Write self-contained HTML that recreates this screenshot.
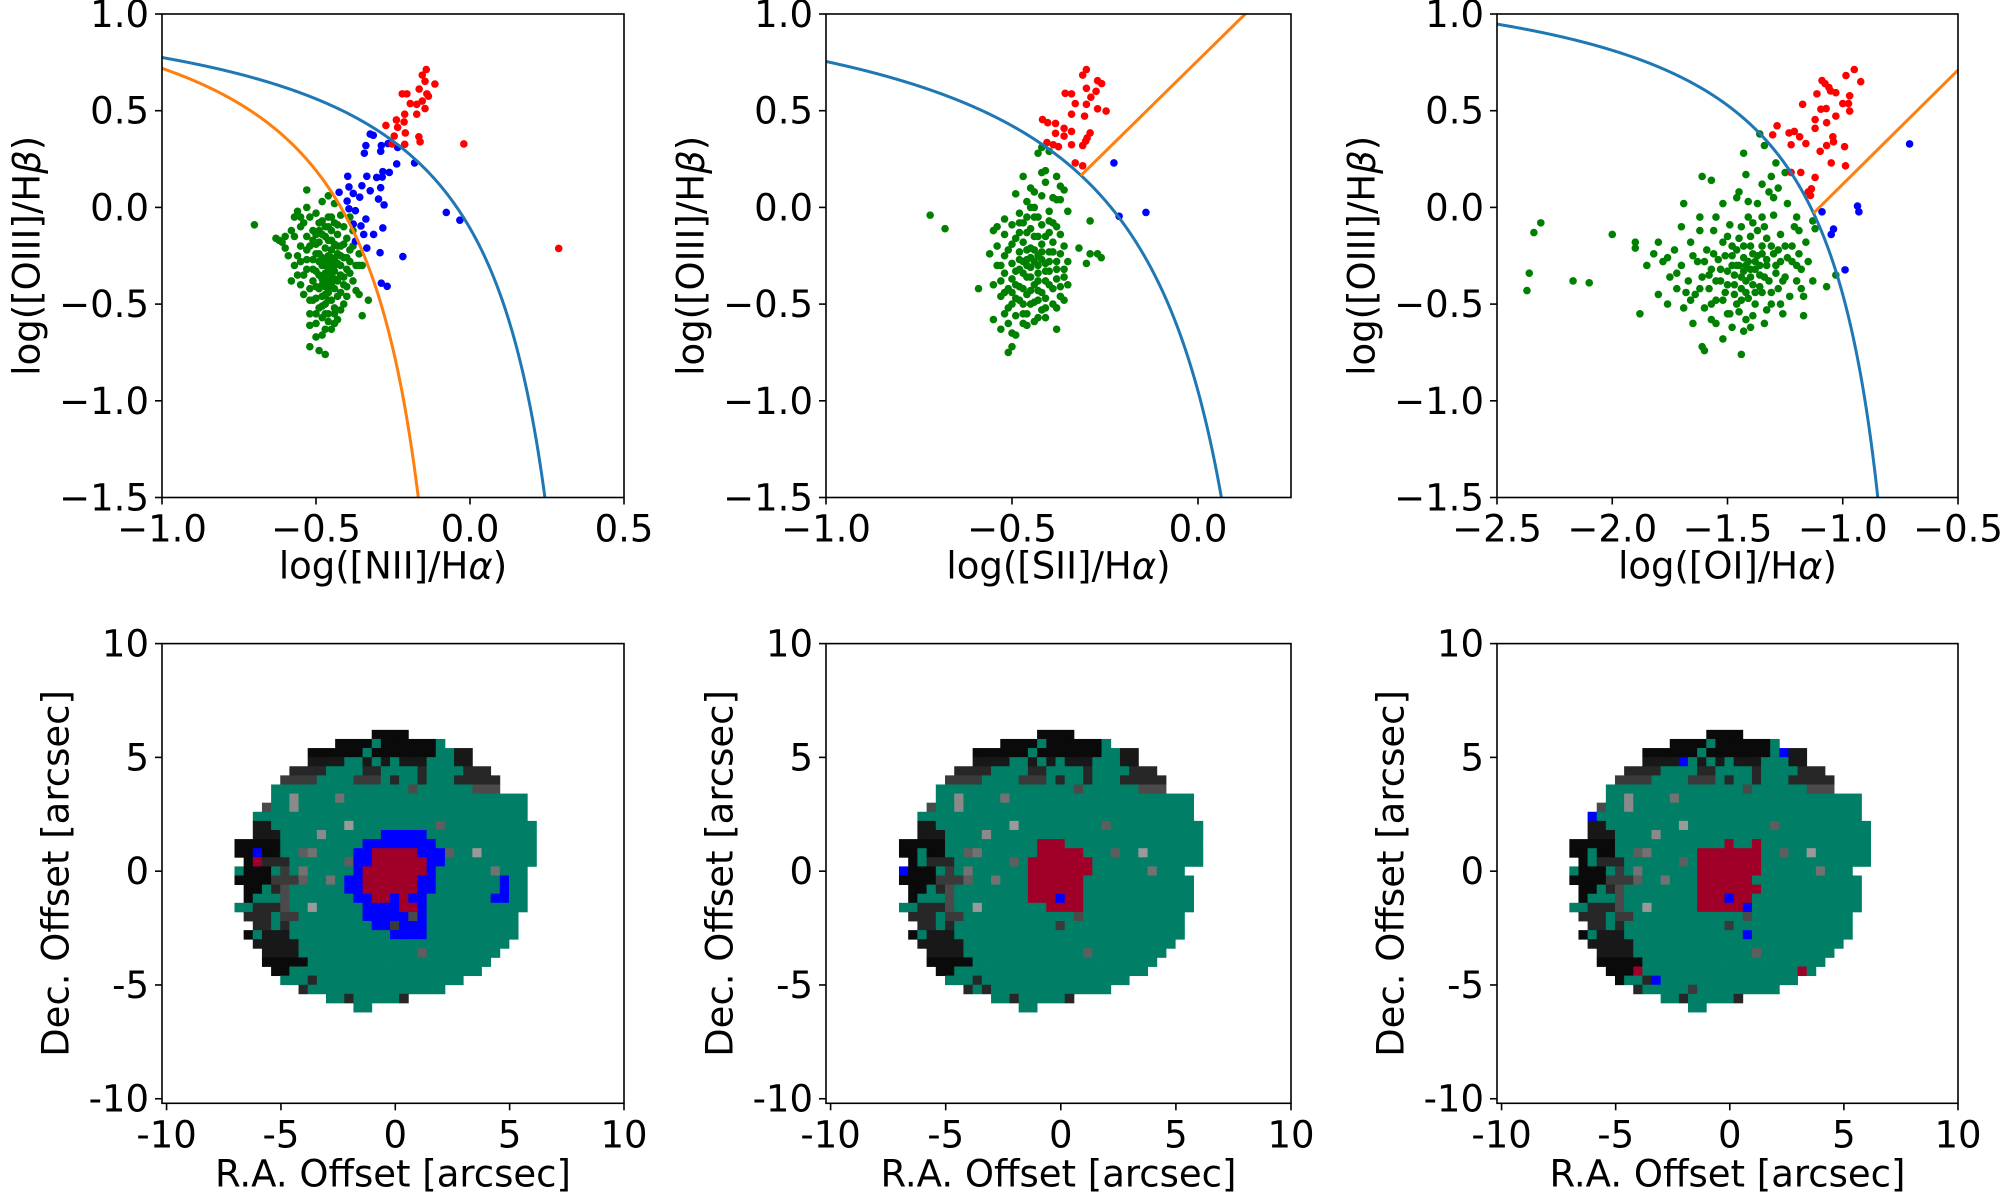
<!DOCTYPE html>
<html><head><meta charset="utf-8">
<style>
html,body{margin:0;padding:0;background:#fff;}
svg{display:block;font-family:"DejaVu Sans","Liberation Sans",sans-serif;}
</style></head>
<body>
<svg id="fig" width="2000" height="1195" viewBox="0 0 2000 1195" xmlns="http://www.w3.org/2000/svg"></svg>
<script>
// ---------- data ----------
const nii_green = [[-0.70,-0.09],[-0.63,-0.16],[-0.61,-0.18],[-0.60,-0.21],[-0.59,-0.25],[-0.58,-0.12],[-0.57,-0.05],[-0.56,-0.02],[-0.55,-0.10],[-0.55,-0.28],[-0.56,-0.35],[-0.55,-0.40],[-0.54,-0.45],[-0.53,0.09],[-0.53,-0.15],[-0.53,-0.22],[-0.53,-0.32],[-0.52,-0.05],[-0.52,-0.55],[-0.52,-0.72],[-0.51,-0.12],[-0.51,-0.27],[-0.51,-0.38],[-0.51,-0.48],[-0.50,-0.03],[-0.50,-0.19],[-0.50,-0.33],[-0.50,-0.60],[-0.49,-0.08],[-0.49,-0.24],[-0.49,-0.42],[-0.49,-0.52],[-0.49,-0.74],[-0.48,0.03],[-0.48,-0.14],[-0.48,-0.30],[-0.48,-0.37],[-0.48,-0.46],[-0.48,-0.57],[-0.47,-0.10],[-0.47,-0.21],[-0.47,-0.27],[-0.47,-0.34],[-0.47,-0.41],[-0.47,-0.50],[-0.47,-0.63],[-0.47,-0.76],[-0.46,0.06],[-0.46,-0.05],[-0.46,-0.17],[-0.46,-0.25],[-0.46,-0.31],[-0.46,-0.39],[-0.46,-0.44],[-0.46,-0.55],[-0.45,-0.12],[-0.45,-0.22],[-0.45,-0.29],[-0.45,-0.36],[-0.45,-0.48],[-0.45,-0.63],[-0.44,0.02],[-0.44,-0.08],[-0.44,-0.19],[-0.44,-0.27],[-0.44,-0.33],[-0.44,-0.42],[-0.44,-0.52],[-0.43,-0.14],[-0.43,-0.24],[-0.43,-0.38],[-0.43,-0.46],[-0.43,-0.58],[-0.42,-0.04],[-0.42,-0.20],[-0.42,-0.30],[-0.42,-0.44],[-0.41,-0.10],[-0.41,-0.26],[-0.41,-0.36],[-0.41,-0.50],[-0.40,-0.16],[-0.40,-0.32],[-0.40,-0.41],[-0.39,-0.22],[-0.39,-0.28],[-0.38,-0.38],[-0.38,-0.12],[-0.37,-0.30],[-0.36,-0.24],[-0.36,-0.30],[-0.35,-0.56],[-0.33,-0.48],[-0.37,-0.43],[-0.52,-0.61],[-0.50,-0.67],[-0.54,-0.08],[-0.57,-0.30],[-0.58,-0.38],[-0.48,-0.66],[-0.45,-0.05],[-0.52,-0.42],[-0.50,-0.47],[-0.44,-0.60],[-0.42,-0.53],[-0.40,-0.46],[-0.39,-0.05]];
const nii_green_core = [[-0.49,-0.28],[-0.48,-0.26],[-0.47,-0.30],[-0.46,-0.33],[-0.45,-0.26],[-0.44,-0.30],[-0.49,-0.35],[-0.48,-0.40],[-0.46,-0.41],[-0.45,-0.40],[-0.47,-0.45],[-0.46,-0.48],[-0.49,-0.18],[-0.47,-0.15],[-0.45,-0.17],[-0.43,-0.20],[-0.42,-0.35],[-0.43,-0.29],[-0.50,-0.24],[-0.51,-0.32],[-0.50,-0.41],[-0.52,-0.20],[-0.53,-0.27],[-0.48,-0.51],[-0.46,-0.59],[-0.44,-0.55],[-0.50,-0.55],[-0.47,-0.55],[-0.41,-0.40],[-0.40,-0.26],[-0.41,-0.19],[-0.43,-0.09],[-0.46,-0.10],[-0.49,-0.12],[-0.51,-0.17],[-0.54,-0.35],[-0.52,-0.48],[-0.44,-0.37],[-0.47,-0.37],[-0.45,-0.33],[-0.42,-0.25],[-0.39,-0.34],[-0.38,-0.20],[-0.50,-0.14],[-0.48,-0.07],[-0.60,-0.15],[-0.62,-0.17],[-0.57,-0.15],[-0.55,-0.20],[-0.56,-0.25],[-0.35,-0.30],[-0.36,-0.45],[-0.53,0.00],[-0.55,-0.05]];
const nii_blue = [[-0.324,0.379],[-0.314,0.373],[-0.338,0.32],[-0.343,0.28],[-0.288,0.32],[-0.266,0.33],[-0.235,0.31],[-0.29,0.29],[-0.18,0.23],[-0.238,0.225],[-0.283,0.185],[-0.262,0.181],[-0.335,0.161],[-0.397,0.161],[-0.303,0.155],[-0.285,0.157],[-0.351,0.112],[-0.324,0.086],[-0.29,0.102],[-0.393,0.106],[-0.425,0.078],[-0.379,0.072],[-0.358,0.053],[-0.399,0.033],[-0.297,0.043],[-0.279,0.013],[-0.372,-0.017],[-0.393,-0.007],[-0.338,-0.06],[-0.379,-0.086],[-0.354,-0.096],[-0.283,-0.106],[-0.345,-0.14],[-0.313,-0.14],[-0.335,-0.21],[-0.292,-0.234],[-0.218,-0.254],[-0.288,-0.392],[-0.269,-0.408],[-0.077,-0.026],[-0.033,-0.066],[-0.372,-0.175]];
const nii_red = [[-0.142,0.713],[-0.155,0.684],[-0.114,0.638],[-0.146,0.652],[-0.22,0.587],[-0.205,0.587],[-0.165,0.612],[-0.14,0.587],[-0.194,0.537],[-0.173,0.533],[-0.146,0.511],[-0.212,0.482],[-0.173,0.482],[-0.239,0.452],[-0.214,0.442],[-0.273,0.424],[-0.235,0.414],[-0.246,0.369],[-0.21,0.385],[-0.166,0.365],[-0.162,0.339],[-0.212,0.326],[-0.253,0.328],[-0.02,0.328],[0.288,-0.212],[-0.135,0.575],[-0.155,0.55]];

const sii_green = [[-0.72,-0.04],[-0.68,-0.11],[-0.59,-0.42],[-0.29,-0.07],[-0.32,-0.21],[-0.29,-0.24],[-0.27,-0.24],[-0.26,-0.26],[-0.30,-0.29],[-0.51,-0.75],[-0.50,-0.72],[-0.43,0.28],[-0.42,0.31],[-0.40,0.29],[-0.42,0.18],[-0.41,0.19],[-0.38,0.16],[-0.47,0.16],[-0.49,0.07],[-0.36,0.09],[-0.37,0.11],[-0.37,0.04],[-0.38,0.04],[-0.35,-0.02],[-0.46,0.03],[-0.42,0.06],[-0.45,0.10],[-0.38,-0.63],[-0.44,-0.59],[-0.46,-0.61],[-0.50,-0.65],[-0.53,-0.63],[-0.55,-0.58],[-0.56,-0.24],[-0.55,-0.12],[-0.52,-0.06],[-0.38,-0.52],[-0.41,-0.57],[-0.54,-0.20],[-0.54,-0.30],[-0.53,-0.38],[-0.53,-0.46],[-0.52,-0.14],[-0.52,-0.25],[-0.52,-0.34],[-0.51,-0.42],[-0.51,-0.52],[-0.50,-0.09],[-0.50,-0.19],[-0.50,-0.29],[-0.50,-0.37],[-0.49,-0.47],[-0.49,-0.56],[-0.48,-0.03],[-0.48,-0.13],[-0.48,-0.23],[-0.48,-0.32],[-0.48,-0.41],[-0.47,-0.50],[-0.47,-0.08],[-0.47,-0.18],[-0.46,-0.27],[-0.46,-0.36],[-0.46,-0.45],[-0.46,-0.55],[-0.45,0.00],[-0.45,-0.11],[-0.45,-0.21],[-0.45,-0.31],[-0.44,-0.40],[-0.44,-0.49],[-0.44,-0.05],[-0.43,-0.15],[-0.43,-0.25],[-0.43,-0.34],[-0.43,-0.43],[-0.42,-0.53],[-0.42,-0.09],[-0.42,-0.19],[-0.41,-0.29],[-0.41,-0.38],[-0.41,-0.47],[-0.40,-0.02],[-0.40,-0.13],[-0.40,-0.23],[-0.40,-0.33],[-0.39,-0.42],[-0.39,-0.08],[-0.39,-0.18],[-0.38,-0.28],[-0.38,-0.37],[-0.37,-0.14],[-0.37,-0.24],[-0.37,-0.46],[-0.36,-0.32],[-0.36,-0.20],[-0.35,-0.40],[-0.35,-0.28],[-0.44,0.08],[-0.41,0.13],[-0.39,0.05],[-0.47,-0.60],[-0.43,-0.57],[-0.51,-0.60],[-0.49,-0.66]];
const sii_green_core = [[-0.47,-0.28],[-0.46,-0.30],[-0.45,-0.26],[-0.44,-0.28],[-0.43,-0.30],[-0.42,-0.27],[-0.44,-0.22],[-0.46,-0.22],[-0.48,-0.27],[-0.49,-0.33],[-0.47,-0.34],[-0.45,-0.36],[-0.43,-0.38],[-0.41,-0.33],[-0.40,-0.28],[-0.42,-0.23],[-0.44,-0.15],[-0.46,-0.13],[-0.41,-0.15],[-0.39,-0.23],[-0.38,-0.32],[-0.40,-0.40],[-0.42,-0.44],[-0.45,-0.43],[-0.47,-0.42],[-0.49,-0.40],[-0.50,-0.44],[-0.48,-0.48],[-0.45,-0.50],[-0.43,-0.48],[-0.41,-0.52],[-0.47,-0.55],[-0.50,-0.50],[-0.52,-0.44],[-0.53,-0.30],[-0.51,-0.22],[-0.49,-0.16],[-0.43,-0.05],[-0.40,-0.07],[-0.38,-0.10],[-0.36,-0.36],[-0.37,-0.41],[-0.46,-0.05],[-0.48,-0.08],[-0.44,0.00],[-0.54,-0.10],[-0.55,-0.40],[-0.52,-0.55],[-0.36,-0.48],[-0.39,-0.50]];
const sii_blue = [[-0.226,0.23],[-0.212,-0.046],[-0.14,-0.026]];
const sii_red = [[-0.30,0.713],[-0.31,0.684],[-0.27,0.655],[-0.259,0.64],[-0.30,0.616],[-0.274,0.6],[-0.357,0.59],[-0.34,0.587],[-0.288,0.57],[-0.33,0.537],[-0.30,0.533],[-0.27,0.51],[-0.247,0.498],[-0.34,0.482],[-0.305,0.472],[-0.418,0.454],[-0.404,0.438],[-0.383,0.434],[-0.36,0.409],[-0.383,0.383],[-0.34,0.393],[-0.29,0.385],[-0.298,0.359],[-0.36,0.369],[-0.406,0.335],[-0.389,0.324],[-0.375,0.314],[-0.34,0.324],[-0.31,0.32],[-0.302,0.343],[-0.33,0.23],[-0.31,0.215]];

const oi_green = [[-2.37,-0.43],[-2.36,-0.34],[-2.34,-0.13],[-2.31,-0.08],[-2.17,-0.38],[-2.10,-0.39],[-2.00,-0.14],[-1.90,-0.18],[-1.90,-0.21],[-1.88,-0.55],[-1.80,-0.18],[-1.36,0.38],[-1.34,0.32],[-1.43,0.28],[-1.29,0.23],[-1.61,0.16],[-1.57,0.14],[-1.42,0.17],[-1.25,0.18],[-1.31,0.16],[-1.69,0.02],[-1.44,-0.76],[-1.61,-0.72],[-1.60,-0.74],[-1.43,-0.64],[-1.07,-0.41],[-1.13,-0.38],[-1.17,-0.46],[-1.17,-0.56],[-1.03,-0.35],[-1.13,-0.07],[-1.12,-0.11],[-1.19,-0.12],[-1.20,-0.05],[-1.85,-0.30],[-1.82,-0.24],[-1.80,-0.45],[-1.78,-0.28],[-1.76,-0.50],[-1.75,-0.36],[-1.73,-0.22],[-1.72,-0.42],[-1.70,-0.10],[-1.70,-0.30],[-1.69,-0.52],[-1.67,-0.38],[-1.66,-0.18],[-1.65,-0.60],[-1.64,-0.45],[-1.63,-0.28],[-1.62,-0.05],[-1.61,-0.36],[-1.60,-0.52],[-1.59,-0.22],[-1.58,-0.42],[-1.57,-0.32],[-1.56,-0.12],[-1.55,-0.48],[-1.55,-0.60],[-1.54,-0.27],[-1.53,-0.38],[-1.52,0.02],[-1.52,-0.18],[-1.51,-0.44],[-1.50,-0.33],[-1.49,-0.55],[-1.49,-0.09],[-1.48,-0.25],[-1.47,-0.40],[-1.46,-0.30],[-1.46,-0.50],[-1.45,0.08],[-1.45,-0.16],[-1.44,-0.36],[-1.43,-0.26],[-1.42,-0.44],[-1.42,-0.58],[-1.41,-0.05],[-1.40,-0.32],[-1.40,-0.20],[-1.39,-0.40],[-1.38,-0.28],[-1.38,-0.50],[-1.37,0.02],[-1.37,-0.12],[-1.36,-0.35],[-1.35,-0.24],[-1.35,-0.44],[-1.34,-0.60],[-1.33,-0.30],[-1.33,-0.16],[-1.32,0.08],[-1.32,-0.38],[-1.31,-0.50],[-1.30,-0.24],[-1.30,-0.04],[-1.29,-0.34],[-1.28,-0.42],[-1.27,-0.14],[-1.27,-0.28],[-1.26,-0.55],[-1.25,-0.20],[-1.25,-0.36],[-1.24,0.02],[-1.23,-0.46],[-1.22,-0.28],[-1.21,-0.10],[-1.20,-0.38],[-1.19,-0.24],[-1.18,-0.32],[-1.16,-0.18],[-1.15,-0.28],[-1.48,-0.62],[-1.52,-0.68],[-1.57,-0.58],[-1.66,-0.48],[-1.44,-0.48],[-1.39,-0.56],[-1.35,-0.05],[-1.28,0.10],[-1.46,0.05],[-1.62,-0.12]];
const oi_green_core = [[-1.45,-0.30],[-1.43,-0.33],[-1.41,-0.28],[-1.40,-0.36],[-1.38,-0.32],[-1.37,-0.25],[-1.36,-0.30],[-1.39,-0.24],[-1.42,-0.38],[-1.44,-0.42],[-1.47,-0.35],[-1.48,-0.30],[-1.50,-0.40],[-1.47,-0.45],[-1.41,-0.47],[-1.36,-0.41],[-1.34,-0.36],[-1.33,-0.27],[-1.35,-0.20],[-1.40,-0.15],[-1.43,-0.20],[-1.46,-0.22],[-1.51,-0.25],[-1.53,-0.32],[-1.55,-0.38],[-1.52,-0.48],[-1.45,-0.54],[-1.38,-0.44],[-1.31,-0.44],[-1.29,-0.30],[-1.31,-0.20],[-1.34,-0.10],[-1.39,-0.08],[-1.44,-0.10],[-1.50,-0.15],[-1.58,-0.35],[-1.60,-0.28],[-1.62,-0.42],[-1.57,-0.50],[-1.50,-0.55],[-1.42,-0.30],[-1.26,-0.38],[-1.24,-0.26],[-1.28,-0.22],[-1.22,-0.20],[-1.35,0.12],[-1.30,0.05],[-1.41,0.03],[-1.55,-0.05],[-1.65,-0.25],[-1.72,-0.34],[-1.68,-0.44],[-1.76,-0.26],[-1.20,-0.30],[-1.18,-0.42],[-1.27,-0.50],[-1.33,-0.53],[-1.40,-0.62],[-1.48,-0.20],[-1.56,-0.24]];
const oi_blue = [[-0.71,0.328],[-0.936,0.007],[-0.93,-0.023],[-1.09,-0.023],[-1.04,-0.112],[-1.05,-0.14],[-0.99,-0.323]];
const oi_red = [[-0.95,0.713],[-0.986,0.682],[-0.922,0.65],[-1.09,0.656],[-1.077,0.64],[-1.06,0.62],[-1.053,0.602],[-1.03,0.593],[-1.112,0.587],[-0.97,0.577],[-1.0,0.537],[-1.174,0.533],[-0.975,0.537],[-1.095,0.508],[-1.072,0.511],[-0.97,0.498],[-1.03,0.472],[-1.12,0.454],[-1.07,0.438],[-1.285,0.422],[-1.12,0.409],[-1.304,0.375],[-1.233,0.385],[-1.21,0.393],[-1.187,0.365],[-1.043,0.365],[-1.04,0.339],[-1.224,0.324],[-1.16,0.33],[-1.07,0.32],[-0.992,0.314],[-1.098,0.29],[-1.05,0.23],[-0.988,0.215],[-1.224,0.181],[-1.182,0.181],[-1.12,0.155],[-1.136,0.096],[-1.14,0.062],[-1.15,0.08]];

const yTicks = [-1.5,-1.0,-0.5,0.0,0.5,1.0];
const niiXTicks = [-1.0,-0.5,0.0,0.5];
const siiXTicks = [-1.0,-0.5,0.0];
const oiXTicks = [-2.5,-2.0,-1.5,-1.0,-0.5];
const mapTicks = [-10,-5,0,5,10];

// spaxel maps (33 cols x 31 rows, 0.4 arcsec cells). g=SF, b=composite, r=AGN, k/1-8=grey levels
const map1 = [
"...............kkkk..............",
"...........kkkkgkkkkkkg..........",
"........kkkkkkgkkkkkkkgg11.......",
"........1111gg1g1g111ggg11.......",
"......2222gggg22gggg2gggg222.....",
".....3333gggg333g2gg2ggg22222....",
"....ggggggggggggggg4gggggg444....",
"....gg7gggg6gggggggggggggggggggg.",
"...4gg7ggggggggggggggggggggggggg.",
"..gggggggggggggggggggggggggggggg.",
"..11gggggggg8ggggggggg5gggggggggg",
"..111gggg7ggggggbbbbbgggggggggggg",
"kkkkkgggggggggbbbbbbbbggggggggggg",
"kkbkkgg56ggggbbrrrrrbbb5gg8gggggg",
".kr222gggggg5bbrrrrrrbbgggggggggg",
"gkkkg3g6gggggbrrrrrrrbgggggg6ggg.",
"kkkk3335gg6gbbrrrrrrbbgggggggbgg.",
".kkg24ggggggbbrrrrrrbbgggggggbgg.",
".kggg4gggggggbbrrbrbbgggggggbbgg.",
"gg2224gg8gggggbbbbrrbggggggggggg.",
".222g33gggggggbbbbb4bgggggggggg..",
"..22g2gggggggggbb3bbbgggggggggg..",
".kg111gggggggggggbbbbgggggggggg..",
"..11111ggggggggggggggggggggggg...",
"...1111ggggggggggggg5gggggggg....",
"...kkkkkgggggggggggggggggggg.....",
"....kkggggggggggggggggggggg......",
".....ggg2gggggggggggggggg........",
".......2ggggggggggggggg..........",
"..........gg2ggggg2..............",
".............gg.................."
];
const map2 = [
"...............kkkk..............",
"...........kkkkgkkkkkkg..........",
"........kkkkkkgkkkkkkkgg11.......",
"........1111gg1g1g111ggg11.......",
"......2222gggg22gggg2gggg222.....",
".....3333gggg333g2gg2ggg22222....",
"....ggggggggggggggg4gggggg444....",
"....gg7gggg6gggggggggggggggggggg.",
"...4gg7ggggggggggggggggggggggggg.",
"..gggggggggggggggggggggggggggggg.",
"..11gggggggg8ggggggggg5gggggggggg",
"..111gggg7ggggggggggggggggggggggg",
"kkkkkggggggggggrrrggggggggggggggg",
"kkgkkgg56ggggggrrrrrggg5gg8gggggg",
".kg222gggggg5grrrrrrrgggggggggggg",
"bkkkg3g6ggggggrrrrrrrgggggg6ggg.",
"kkkk3335gg6gggrrrrrrgggggggggggg.",
".kkg24ggggggggrrrrrrgggggggggggg.",
".kggg4ggggggggrrrbrrgggggggggggg.",
"gg2224gg8gggggggrrrrgggggggggggg.",
".222g33gggggggggggg4ggggggggggg..",
"..22g2ggggggggggg3ggggggggggggg..",
".kg111ggggggggggggggggggggggggg..",
"..11111ggggggggggggggggggggggg...",
"...1111ggggggggggggg5gggggggg....",
"...kkkkkgggggggggggggggggggg.....",
"....kkggggggggggggggggggggg......",
".....ggg2gggggggggggggggg........",
".......2g2ggggggggggggg..........",
"..........gg2ggggg2..............",
".............gg.................."
];
const map3 = [
"...............kkkk..............",
"...........kkkkgkkkkkkg..........",
"........kkkkkkgkkkkkkkgb11.......",
"........1111bg1g1g111ggg11.......",
"......2222gggg22gggg2gggg222.....",
".....3333gggg333g2gg2ggg22222....",
"....ggggggggggggggg4gggggg444....",
"....gg7gggg6gggggggggggggggggggg.",
"...4gg7ggggggggggggggggggggggggg.",
"..bggggggggggggggggggggggggggggg.",
"..11gggggggg8ggggggggg5gggggggggg",
"..111gggg7ggggggggggggggggggggggg",
"kkkkkggggggggggggrggrgggggggggggg",
"kkgkkgg56gggggrrrrrrrgg5gg8gggggg",
".kg222gggggg5grrrrrrrgggggggggggg",
"gkkkg3g6ggggggrrrrrrrgggggg6ggg.",
"kkkk3335gg6gggrrrrrrgggggggggggg.",
".kkg24ggggggggrrrrrrrggggggggggg.",
".kggg4ggggggggrrrbrrgggggggggggg.",
"gg2224gg8gggggrrrrrbgggggggggggg.",
".222g33gggggggggggg4ggggggggggg..",
"..22g2ggggggggggg3ggggggggggggg..",
".kg111gggggggggggggbggggggggggg..",
"..11111ggggggggggggggggggggggg...",
"...1111ggggggggggggg5gggggggg....",
"...kkkkkgggggggggggggggggggg.....",
"....kkkrgggggggggggggggggrg......",
".....kgg2bggggggggggggggg........",
".......2ggggg3ggggggggg..........",
"..........gg2ggggg2..............",
".............gg.................."
];
const mapX0 = -7.03, mapY0 = 6.21, mapCell = 0.4;

// ---------- drawing ----------
const NS = 'http://www.w3.org/2000/svg';
const svg = document.getElementById('fig');
function mk(tag, attrs, parent){ const e=document.createElementNS(NS,tag); for(const k in attrs) e.setAttribute(k,attrs[k]); (parent||svg).appendChild(e); return e; }
const FS = 37;
const TOP = {t:14, b:497.5, y0:-1.5, y1:1.0};
const BOT = {t:643.6, b:1103.3, y0:-10.2, y1:10.0};
const cols = [{l:162,r:624},{l:826,r:1291},{l:1497,r:1958}];

function scaler(a0,a1,p0,p1){ return v => p0 + (v-a0)/(a1-a0)*(p1-p0); }
const fmt = v => { const s = v.toFixed(1); return s.replace('-', '\u2212'); };

function axesFrame(g, l, r, t, b){
  const f = mk('rect',{x:l,y:t,width:r-l,height:b-t,fill:'none',stroke:'#000','stroke-width':1.6},g);
  
  
}
function xTicksDraw(g, ticks, sx, b, labFn){
  ticks.forEach(v=>{
    const x=sx(v);
    const tk=mk('line',{x1:x,y1:b,x2:x,y2:b+7,stroke:'#000','stroke-width':1.6},g);
    
    
    const tx=mk('text',{x:x,y:b+44,'font-size':FS,'text-anchor':'middle'},g);
    tx.textContent=labFn(v);
    
    
  });
}
function yTicksDraw(g, ticks, sy, l, labFn){
  ticks.forEach(v=>{
    const y=sy(v);
    const tk=mk('line',{x1:l-7,y1:y,x2:l,y2:y,stroke:'#000','stroke-width':1.6},g);
    
    
    const tx=mk('text',{x:l-13,y:y+13,'font-size':FS,'text-anchor':'end'},g);
    tx.textContent=labFn(v);
    
    
  });
}
function label(g, x, y, html, rot, name){
  const t=mk('text',{x:x,y:y,'font-size':FS,'text-anchor':'middle','dominant-baseline':'middle'},g);
  if(rot) t.setAttribute('transform',`rotate(-90 ${x} ${y})`);
  t.innerHTML=html;
  
  
}

// BPT panels
const bpt = [
  {name:'nii', xr:[-1.0,0.5], ticks:niiXTicks, green:nii_green.concat(nii_green_core), blue:nii_blue, red:nii_red,
   xl:'log([NII]/H<tspan font-style="italic">α</tspan>)',
   curves:[{f:x=>0.61/(x-0.47)+1.19, xa:-1.0, xb:0.47, c:'#1f77b4'},{f:x=>0.61/(x-0.05)+1.30, xa:-1.0, xb:0.05, c:'#ff7f0e'}]},
  {name:'sii', xr:[-1.0,0.25], ticks:siiXTicks, green:sii_green.concat(sii_green_core), blue:sii_blue, red:sii_red,
   xl:'log([SII]/H<tspan font-style="italic">α</tspan>)',
   curves:[{f:x=>0.72/(x-0.32)+1.30, xa:-1.0, xb:0.32, c:'#1f77b4'}],
   sey:{m:1.89,c:0.76,k:x=>0.72/(x-0.32)+1.30}},
  {name:'oi', xr:[-2.5,-0.5], ticks:oiXTicks, green:oi_green.concat(oi_green_core), blue:oi_blue, red:oi_red,
   xl:'log([OI]/H<tspan font-style="italic">α</tspan>)',
   curves:[{f:x=>0.73/(x+0.59)+1.33, xa:-2.5, xb:-0.59, c:'#1f77b4'}],
   sey:{m:1.18,c:1.30,k:x=>0.73/(x+0.59)+1.33}}
];
bpt.forEach((p,i)=>{
  const {l,r}=cols[i];
  const g=mk('g',{});
  
  
  const sx=scaler(p.xr[0],p.xr[1],l,r), sy=scaler(TOP.y0,TOP.y1,TOP.b,TOP.t);
  const cid='clip'+i;
  const cp=mk('clipPath',{id:cid},g); mk('rect',{x:l,y:TOP.t,width:r-l,height:TOP.b-TOP.t},cp);
  const pg=mk('g',{'clip-path':`url(#${cid})`},g);
  [['green','green',p.green],['blue','#0000ff',p.blue],['red','#ff0000',p.red]].forEach(([nm,col,arr])=>{
    const sg=mk('g',{fill:col},pg);
    
    
    arr.forEach(d=>{
      const c=mk('circle',{cx:sx(d[0]),cy:sy(d[1]),r:3.8},sg);
      
      
    });
  });
  p.curves.forEach(cv=>{
    let pts=[];
    for(let k=0;k<=600;k++){ const x=cv.xa+(cv.xb-cv.xa-1e-3)*k/600; const y=cv.f(x); if(y<TOP.y0-0.3) break; pts.push(sx(x).toFixed(2)+','+sy(y).toFixed(2)); }
    const pl=mk('polyline',{points:pts.join(' '),fill:'none',stroke:cv.c,'stroke-width':3},pg);
    
    
  });
  if(p.sey){
    let a=p.xr[0]+0.05, b=p.curves[0].xb-0.01;
    const h=x=>p.sey.m*x+p.sey.c-p.sey.k(x);
    for(let k=0;k<60;k++){ const m=(a+b)/2; if(h(a)*h(m)<=0) b=m; else a=m; }
    const x0=(a+b)/2, x1=p.xr[1]+0.1;
    const ln=mk('line',{x1:sx(x0),y1:sy(p.sey.m*x0+p.sey.c),x2:sx(x1),y2:sy(p.sey.m*x1+p.sey.c),stroke:'#ff7f0e','stroke-width':3},pg);
    
    
  }
  axesFrame(g,l,r,TOP.t,TOP.b);
  xTicksDraw(g,p.ticks,sx,TOP.b,fmt);
  yTicksDraw(g,yTicks,sy,l,fmt);
  label(g,(l+r)/2,568,p.xl,false,'x-axis-title');
  label(g,l-133,(TOP.t+TOP.b)/2,'log([OIII]/H<tspan font-style="italic">β</tspan>)',true,'y-axis-title');
});

// maps
const palette = {g:'#007f66', b:'#0000ff', r:'#a00028', k:'#0a0a0a', '1':'#181818', '2':'#272727', '3':'#3a3a3a', '4':'#4a4a4a', '5':'#5e5e5e', '6':'#727272', '7':'#8a8a8a', '8':'#9a9a9a'};
[map1,map2,map3].forEach((m,i)=>{
  const {l,r}=cols[i];
  const g=mk('g',{});
  
  
  const sx=scaler(BOT.y0,BOT.y1,l,r), sy=scaler(BOT.y0,BOT.y1,BOT.b,BOT.t);
  m.forEach((row,ri)=>{
    for(let ci=0;ci<33;ci++){
      const ch=row[ci]; if(!ch||ch==='.') continue;
      const x0=mapX0+ci*mapCell, y0=mapY0-ri*mapCell;
      const px=sx(x0), py=sy(y0);
      const w=sx(x0+mapCell)-px, h=sy(y0-mapCell)-py;
      const c=mk('rect',{x:px.toFixed(2),y:py.toFixed(2),width:(w+0.4).toFixed(2),height:(h+0.4).toFixed(2),fill:palette[ch]},g);
      
      
    }
  });
  axesFrame(g,l,r,BOT.t,BOT.b);
  xTicksDraw(g,mapTicks,sx,BOT.b,v=>String(v));
  yTicksDraw(g,mapTicks,sy,l,v=>String(v));
  label(g,(l+r)/2,1176,'R.A. Offset [arcsec]',false,'x-axis-title');
  label(g,l-104,(BOT.t+BOT.b)/2,'Dec. Offset [arcsec]',true,'y-axis-title');
});
</script>
</body></html>
